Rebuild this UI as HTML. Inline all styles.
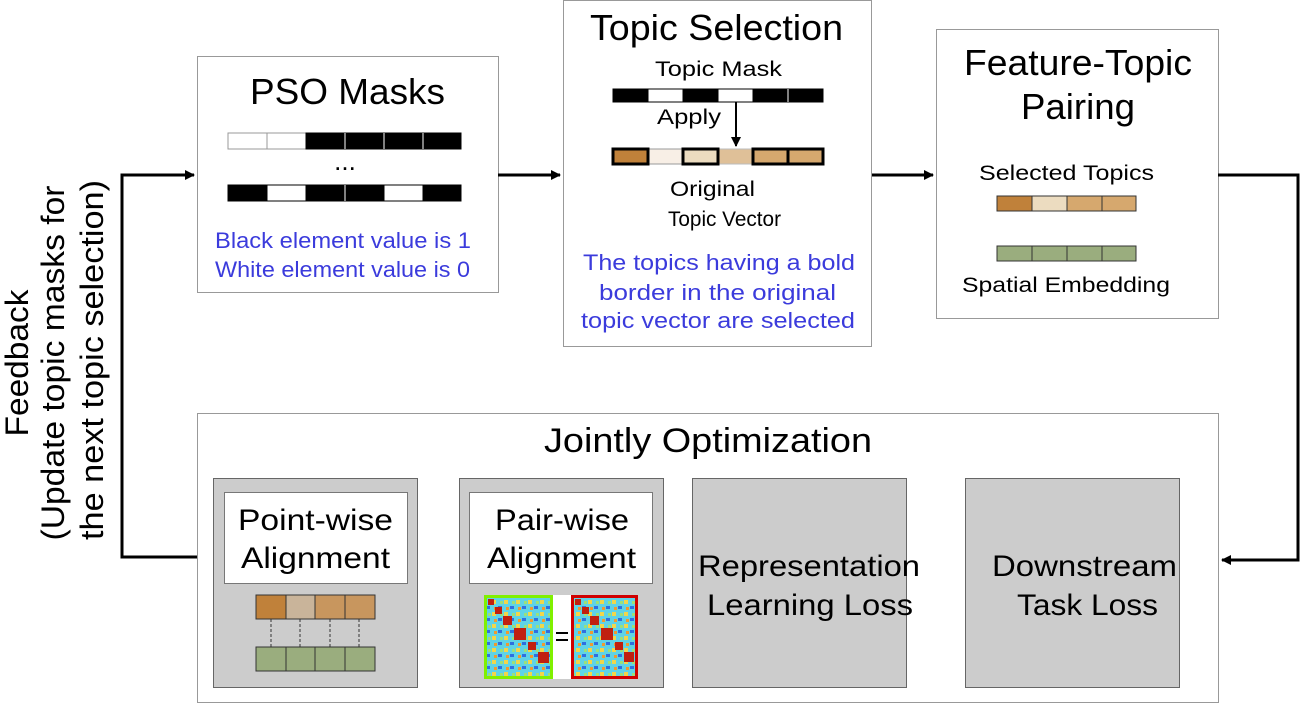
<!DOCTYPE html>
<html><head><meta charset="utf-8"><style>
html,body{margin:0;padding:0;background:#fff;}
svg{display:block;font-family:"Liberation Sans",Arial,sans-serif;}
</style></head><body>
<svg width="1302" height="704" viewBox="0 0 1302 704" xmlns="http://www.w3.org/2000/svg">
<defs>
<marker id="ah" markerWidth="10" markerHeight="10" refX="9" refY="5" orient="auto" markerUnits="userSpaceOnUse">
<path d="M0,0 L10,5 L0,10 z" fill="#000"/></marker>
<pattern id="hm" width="12" height="12" patternUnits="userSpaceOnUse">
<rect width="12" height="12" fill="#5fd3e6"/><rect x="0" y="0" width="4" height="4" fill="#f2d64a"/><rect x="6" y="6" width="4" height="3" fill="#2f6fe0"/><rect x="8" y="1" width="3" height="3" fill="#9be07a"/><rect x="2" y="7" width="3" height="3" fill="#f09a30"/>
</pattern>
</defs>

<!-- PSO Masks -->
<rect x="197.5" y="56.5" width="301" height="236" fill="#fff" stroke="#999"/>
<text x="250" y="104" font-size="36" textLength="195" lengthAdjust="spacingAndGlyphs">PSO Masks</text>
<g stroke="#000" stroke-width="1">
<rect x="228" y="133" width="39" height="16" fill="#fff" stroke="#999"/>
<rect x="267" y="133" width="39" height="16" fill="#fff" stroke="#999"/>
<rect x="306" y="133" width="155" height="16" fill="#000"/>
<rect x="228" y="185" width="39" height="16" fill="#000"/>
<rect x="267" y="185" width="39" height="16" fill="#fff"/>
<rect x="306" y="185" width="78" height="16" fill="#000"/>
<rect x="384" y="185" width="39" height="16" fill="#fff"/>
<rect x="423" y="185" width="38" height="16" fill="#000"/>
</g>
<g stroke="#fff" stroke-width="1"><line x1="345" y1="133" x2="345" y2="149"/><line x1="384" y1="133" x2="384" y2="149"/><line x1="423" y1="133" x2="423" y2="149"/><line x1="345" y1="185" x2="345" y2="201"/></g>
<text x="345" y="170" font-size="26" text-anchor="middle">...</text>
<text x="215" y="248" font-size="22" fill="#3b3bdc" textLength="256" lengthAdjust="spacingAndGlyphs">Black element value is 1</text>
<text x="215" y="277" font-size="22" fill="#3b3bdc" textLength="255" lengthAdjust="spacingAndGlyphs">White element value is 0</text>

<!-- Topic Selection -->
<rect x="563.5" y="0.5" width="308" height="346" fill="#fff" stroke="#999"/>
<text x="590" y="40" font-size="36" textLength="253" lengthAdjust="spacingAndGlyphs">Topic Selection</text>
<text x="655" y="76" font-size="21" textLength="127" lengthAdjust="spacingAndGlyphs">Topic Mask</text>
<g stroke="#000">
<rect x="613" y="89" width="35" height="13" fill="#000"/>
<rect x="648" y="89" width="35" height="13" fill="#fff"/>
<rect x="683" y="89" width="35" height="13" fill="#000"/>
<rect x="718" y="89" width="35" height="13" fill="#fff"/>
<rect x="753" y="89" width="35" height="13" fill="#000"/>
<rect x="788" y="89" width="35" height="13" fill="#000"/>
</g>
<line x1="788" y1="89" x2="788" y2="102" stroke="#fff"/>
<text x="657" y="124" font-size="21" textLength="64" lengthAdjust="spacingAndGlyphs">Apply</text>
<line x1="736" y1="102" x2="736" y2="146" stroke="#000" stroke-width="2" marker-end="url(#ah)"/>
<rect x="648" y="149" width="35" height="15" fill="#f8efe6" stroke="#999"/>
<rect x="718" y="149" width="35" height="15" fill="#dfc098" stroke="#bbb"/>
<g stroke="#000" stroke-width="3">
<rect x="613" y="149" width="35" height="15" fill="#c0813a"/>
<rect x="683" y="149" width="35" height="15" fill="#ecdcc0"/>
<rect x="753" y="149" width="35" height="15" fill="#d6a86e"/>
<rect x="788" y="149" width="35" height="15" fill="#d6a86e"/>
</g>
<text x="670" y="196" font-size="21" textLength="85" lengthAdjust="spacingAndGlyphs">Original</text>
<text x="668" y="226" font-size="21" textLength="113" lengthAdjust="spacingAndGlyphs">Topic Vector</text>
<text x="583" y="270" font-size="22" fill="#3b3bdc" textLength="272" lengthAdjust="spacingAndGlyphs">The topics having a bold</text>
<text x="599" y="300" font-size="22" fill="#3b3bdc" textLength="237" lengthAdjust="spacingAndGlyphs">border in the original</text>
<text x="581" y="328" font-size="22" fill="#3b3bdc" textLength="274" lengthAdjust="spacingAndGlyphs">topic vector are selected</text>

<!-- Feature-Topic Pairing -->
<rect x="936.5" y="29.5" width="282" height="289" fill="#fff" stroke="#999"/>
<text x="964" y="75" font-size="36" textLength="228" lengthAdjust="spacingAndGlyphs">Feature-Topic</text>
<text x="1021" y="119" font-size="36" textLength="114" lengthAdjust="spacingAndGlyphs">Pairing</text>
<text x="979" y="180" font-size="21" textLength="175" lengthAdjust="spacingAndGlyphs">Selected Topics</text>
<g stroke="#333">
<rect x="997" y="196" width="35" height="15" fill="#c0813a"/>
<rect x="1032" y="196" width="35" height="15" fill="#ecdcc0"/>
<rect x="1067" y="196" width="35" height="15" fill="#d6a86e"/>
<rect x="1102" y="196" width="34" height="15" fill="#d6a86e"/>
<rect x="997" y="246" width="35" height="15" fill="#9aad7e"/>
<rect x="1032" y="246" width="35" height="15" fill="#9aad7e"/>
<rect x="1067" y="246" width="35" height="15" fill="#9aad7e"/>
<rect x="1102" y="246" width="34" height="15" fill="#9aad7e"/>
</g>
<text x="962" y="292" font-size="21" textLength="208" lengthAdjust="spacingAndGlyphs">Spatial Embedding</text>

<!-- Jointly Optimization -->
<rect x="197.5" y="413.5" width="1021" height="289" fill="#fff" stroke="#999"/>
<text x="544" y="452" font-size="34" textLength="328" lengthAdjust="spacingAndGlyphs">Jointly Optimization</text>
<g fill="#cccccc" stroke="#666">
<rect x="213.5" y="478.5" width="204" height="209"/>
<rect x="459.5" y="478.5" width="204" height="209"/>
<rect x="692.5" y="478.5" width="214" height="209"/>
<rect x="965.5" y="478.5" width="214" height="209"/>
</g>
<rect x="224.5" y="492.5" width="183" height="91" fill="#fff" stroke="#777"/>
<rect x="469.5" y="492.5" width="183" height="91" fill="#fff" stroke="#777"/>
<g font-size="30" lengthAdjust="spacingAndGlyphs">
<text x="238" y="530" textLength="155" lengthAdjust="spacingAndGlyphs">Point-wise</text>
<text x="241" y="568" textLength="149" lengthAdjust="spacingAndGlyphs">Alignment</text>
<text x="495" y="530" textLength="134" lengthAdjust="spacingAndGlyphs">Pair-wise</text>
<text x="487" y="568" textLength="149" lengthAdjust="spacingAndGlyphs">Alignment</text>
<text x="698" y="576" textLength="222" lengthAdjust="spacingAndGlyphs">Representation</text>
<text x="707" y="615" textLength="206" lengthAdjust="spacingAndGlyphs">Learning Loss</text>
<text x="992" y="576" textLength="185" lengthAdjust="spacingAndGlyphs">Downstream</text>
<text x="1017" y="615" textLength="141" lengthAdjust="spacingAndGlyphs">Task Loss</text>
</g>
<g stroke="#333">
<rect x="256" y="595" width="30" height="24" fill="#c0813a"/>
<rect x="286" y="595" width="29" height="24" fill="#c9b49a"/>
<rect x="315" y="595" width="30" height="24" fill="#c8965e"/>
<rect x="345" y="595" width="30" height="24" fill="#c8965e"/>
<rect x="256" y="647" width="30" height="24" fill="#9aad7e"/>
<rect x="286" y="647" width="29" height="24" fill="#9aad7e"/>
<rect x="315" y="647" width="30" height="24" fill="#9aad7e"/>
<rect x="345" y="647" width="30" height="24" fill="#9aad7e"/>
</g>
<g stroke="#333" stroke-dasharray="3,2"><line x1="271" y1="619" x2="271" y2="647"/><line x1="300" y1="619" x2="300" y2="647"/><line x1="330" y1="619" x2="330" y2="647"/><line x1="359" y1="619" x2="359" y2="647"/></g>
<rect x="484" y="595" width="153" height="84" fill="#fff"/>
<rect x="484" y="595" width="69" height="84" fill="#80f000"/>
<rect x="487" y="598" width="63" height="78" fill="url(#hm)"/>
<rect x="571" y="595" width="67" height="84" fill="#d00000"/>
<rect x="574" y="598" width="61" height="78" fill="url(#hm)"/>
<g fill="#c02010"><rect x="488" y="599" width="6" height="6"/><rect x="495" y="607" width="7" height="7"/><rect x="503" y="616" width="9" height="9"/><rect x="514" y="628" width="12" height="12"/><rect x="528" y="642" width="8" height="8"/><rect x="538" y="652" width="11" height="11"/>
<rect x="575" y="599" width="6" height="6"/><rect x="582" y="607" width="7" height="7"/><rect x="590" y="616" width="9" height="9"/><rect x="601" y="628" width="12" height="12"/><rect x="615" y="642" width="8" height="8"/><rect x="624" y="652" width="10" height="10"/></g>
<line x1="556" y1="633" x2="568" y2="633" stroke="#000" stroke-width="2"/>
<line x1="556" y1="640" x2="568" y2="640" stroke="#000" stroke-width="2"/>

<!-- Connectors -->
<g stroke="#000" stroke-width="3" fill="none">
<line x1="498" y1="175" x2="560" y2="175" marker-end="url(#ah)"/>
<line x1="872" y1="175" x2="933" y2="175" marker-end="url(#ah)"/>
<polyline points="1218,175 1298,175 1298,560 1222,560" marker-end="url(#ah)"/>
<polyline points="197,557 122,557 122,175 194,175" marker-end="url(#ah)"/>
</g>

<!-- Feedback text -->
<g font-size="32" text-anchor="middle">
<text transform="translate(28,363) rotate(-90)" textLength="147" lengthAdjust="spacingAndGlyphs">Feedback</text>
<text transform="translate(64,363) rotate(-90)" textLength="355" lengthAdjust="spacingAndGlyphs">(Update topic masks for</text>
<text transform="translate(103,360) rotate(-90)" textLength="360" lengthAdjust="spacingAndGlyphs">the next topic selection)</text>
</g>
</svg>
</body></html>
